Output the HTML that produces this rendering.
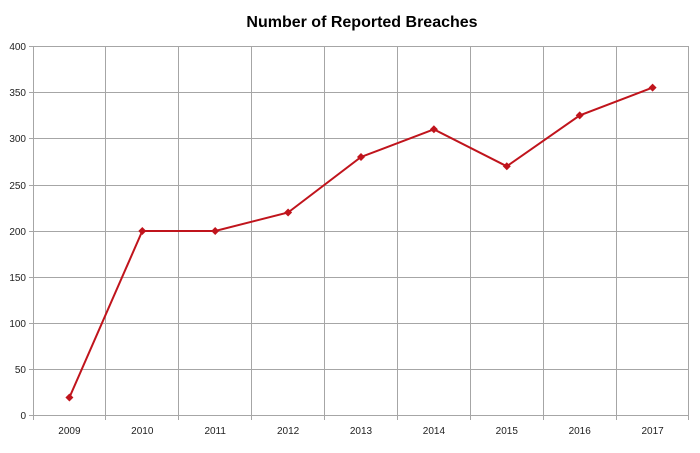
<!DOCTYPE html>
<html><head><style>body{margin:0;background:#fff}svg{display:block}</style></head><body>
<svg width="700" height="453" xmlns="http://www.w3.org/2000/svg" font-family="Liberation Sans, sans-serif">
<text x="362" y="27" text-anchor="middle" font-size="16" font-weight="bold" fill="#000">Number of Reported Breaches</text>
<g stroke="#a6a6a6" stroke-width="1">
<line x1="33" y1="46.5" x2="689" y2="46.5"/><line x1="33" y1="92.5" x2="689" y2="92.5"/><line x1="33" y1="138.5" x2="689" y2="138.5"/><line x1="33" y1="185.5" x2="689" y2="185.5"/><line x1="33" y1="231.5" x2="689" y2="231.5"/><line x1="33" y1="277.5" x2="689" y2="277.5"/><line x1="33" y1="323.5" x2="689" y2="323.5"/><line x1="33" y1="369.5" x2="689" y2="369.5"/>
<line x1="105.5" y1="46" x2="105.5" y2="420"/><line x1="178.5" y1="46" x2="178.5" y2="420"/><line x1="251.5" y1="46" x2="251.5" y2="420"/><line x1="324.5" y1="46" x2="324.5" y2="420"/><line x1="397.5" y1="46" x2="397.5" y2="420"/><line x1="470.5" y1="46" x2="470.5" y2="420"/><line x1="543.5" y1="46" x2="543.5" y2="420"/><line x1="616.5" y1="46" x2="616.5" y2="420"/><line x1="688.5" y1="46" x2="688.5" y2="420"/>
<line x1="33.5" y1="46" x2="33.5" y2="420"/><line x1="29" y1="415.5" x2="689" y2="415.5"/>
<line x1="29" y1="46.5" x2="33" y2="46.5"/><line x1="29" y1="92.5" x2="33" y2="92.5"/><line x1="29" y1="138.5" x2="33" y2="138.5"/><line x1="29" y1="185.5" x2="33" y2="185.5"/><line x1="29" y1="231.5" x2="33" y2="231.5"/><line x1="29" y1="277.5" x2="33" y2="277.5"/><line x1="29" y1="323.5" x2="33" y2="323.5"/><line x1="29" y1="369.5" x2="33" y2="369.5"/>
</g>
<g font-size="10" fill="#222" text-anchor="end">
<text x="26" y="50">400</text><text x="26" y="96">350</text><text x="26" y="142">300</text><text x="26" y="189">250</text><text x="26" y="235">200</text><text x="26" y="281">150</text><text x="26" y="327">100</text><text x="26" y="373">50</text><text x="26" y="419">0</text>
</g>
<g font-size="10" fill="#222" text-anchor="middle">
<text x="69.4" y="434">2009</text><text x="142.3" y="434">2010</text><text x="215.2" y="434">2011</text><text x="288.1" y="434">2012</text><text x="361" y="434">2013</text><text x="433.9" y="434">2014</text><text x="506.8" y="434">2015</text><text x="579.7" y="434">2016</text><text x="652.6" y="434">2017</text>
</g>
<polyline fill="none" stroke="#c0141c" stroke-width="2" points="69.4,397.5 142.3,231 215.2,231 288.1,212.5 361,157 433.9,129.3 506.8,166.3 579.7,115.4 652.6,87.6"/>
<g fill="#c0141c">
<path d="M69.4,393.5l4,4l-4,4l-4,-4z"/><path d="M142.3,227l4,4l-4,4l-4,-4z"/><path d="M215.2,227l4,4l-4,4l-4,-4z"/><path d="M288.1,208.5l4,4l-4,4l-4,-4z"/><path d="M361,153l4,4l-4,4l-4,-4z"/><path d="M433.9,125.3l4,4l-4,4l-4,-4z"/><path d="M506.8,162.3l4,4l-4,4l-4,-4z"/><path d="M579.7,111.4l4,4l-4,4l-4,-4z"/><path d="M652.6,83.6l4,4l-4,4l-4,-4z"/>
</g>
</svg>
</body></html>
